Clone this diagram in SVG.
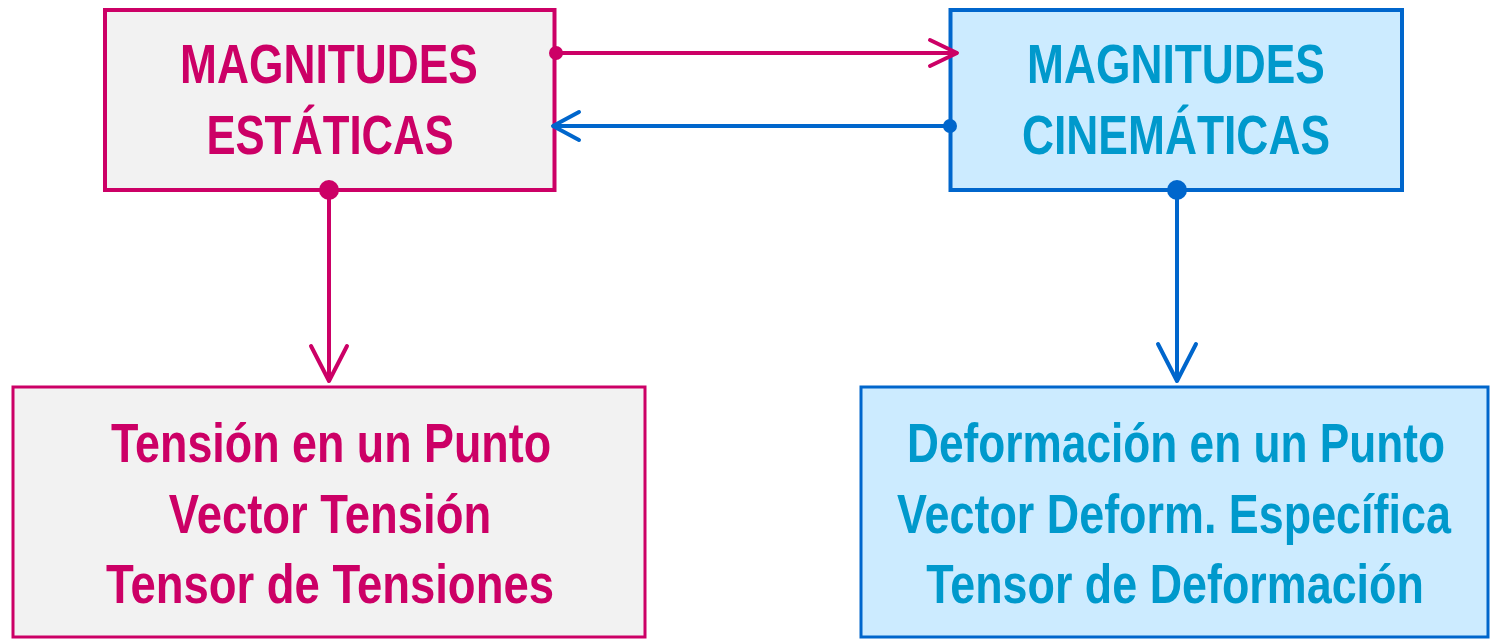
<svg xmlns="http://www.w3.org/2000/svg" width="1491" height="640" viewBox="0 0 1491 640">
<style>
  .t { font-family: "Liberation Sans", Arial, sans-serif; font-weight: bold; font-size: 56px; text-anchor: middle; }
  .mag { fill: #CC0066; }
  .cyan { fill: #0099CC; }
  .boxM { fill: #F2F2F2; stroke: #CC0066; }
  .boxC { fill: #CCEBFF; stroke: #0066CC; }
  .lnM { fill: none; stroke: #CC0066; stroke-width: 4; stroke-linecap: round; stroke-linejoin: round; }
  .lnC { fill: none; stroke: #0066CC; stroke-width: 4; stroke-linecap: round; stroke-linejoin: round; }
  .dotM { fill: #CC0066; }
  .dotC { fill: #0066CC; }
</style>
<rect width="1491" height="640" fill="#FFFFFF"/>
<g id="estaticas">
  <rect class="boxM" x="105" y="10" width="449.5" height="180" stroke-width="4"/>
  <text class="t mag" transform="translate(329,83) scale(0.79,1)" textLength="377" lengthAdjust="spacingAndGlyphs">MAGNITUDES</text>
  <text class="t mag" transform="translate(330,154) scale(0.79,1)" textLength="313" lengthAdjust="spacingAndGlyphs">ESTÁTICAS</text>
</g>
<g id="cinematicas">
  <rect class="boxC" x="950.5" y="10" width="451.5" height="180" stroke-width="4"/>
  <text class="t cyan" transform="translate(1176,83) scale(0.79,1)" textLength="377" lengthAdjust="spacingAndGlyphs">MAGNITUDES</text>
  <text class="t cyan" transform="translate(1176,154) scale(0.79,1)" textLength="390" lengthAdjust="spacingAndGlyphs">CINEMÁTICAS</text>
</g>
<g id="tension">
  <rect class="boxM" x="13" y="387" width="632" height="250" stroke-width="3"/>
  <text class="t mag" transform="translate(331,462) scale(0.79,1)" textLength="557" lengthAdjust="spacingAndGlyphs">Tensión en un Punto</text>
  <text class="t mag" transform="translate(330,533) scale(0.79,1)" textLength="408" lengthAdjust="spacingAndGlyphs">Vector Tensión</text>
  <text class="t mag" transform="translate(330,603) scale(0.79,1)" textLength="567" lengthAdjust="spacingAndGlyphs">Tensor de Tensiones</text>
</g>
<g id="deformacion">
  <rect class="boxC" x="861" y="387" width="627" height="250" stroke-width="3"/>
  <text class="t cyan" transform="translate(1176,462) scale(0.79,1)" textLength="681" lengthAdjust="spacingAndGlyphs">Deformación en un Punto</text>
  <text class="t cyan" transform="translate(1174,533) scale(0.79,1)" textLength="701" lengthAdjust="spacingAndGlyphs">Vector Deform. Específica</text>
  <text class="t cyan" transform="translate(1175,603) scale(0.79,1)" textLength="630" lengthAdjust="spacingAndGlyphs">Tensor de Deformación</text>
</g>
<g id="connectors">
  <line class="lnM" x1="556" y1="53" x2="956" y2="53"/>
  <polyline class="lnM" points="930,40 957,53 930,66"/>
  <circle class="dotM" cx="556" cy="53" r="7"/>

  <line class="lnC" x1="950" y1="126" x2="554" y2="126"/>
  <polyline class="lnC" points="579,112 553,126 579,140"/>
  <circle class="dotC" cx="950" cy="126" r="7"/>

  <line class="lnM" x1="329" y1="190" x2="329" y2="380"/>
  <polyline class="lnM" points="311,346 329,381 347,346"/>
  <circle class="dotM" cx="329" cy="190" r="10"/>

  <line class="lnC" x1="1177" y1="190" x2="1177" y2="380"/>
  <polyline class="lnC" points="1158,344 1177,381 1196,344"/>
  <circle class="dotC" cx="1177" cy="190" r="10"/>
</g>
</svg>
